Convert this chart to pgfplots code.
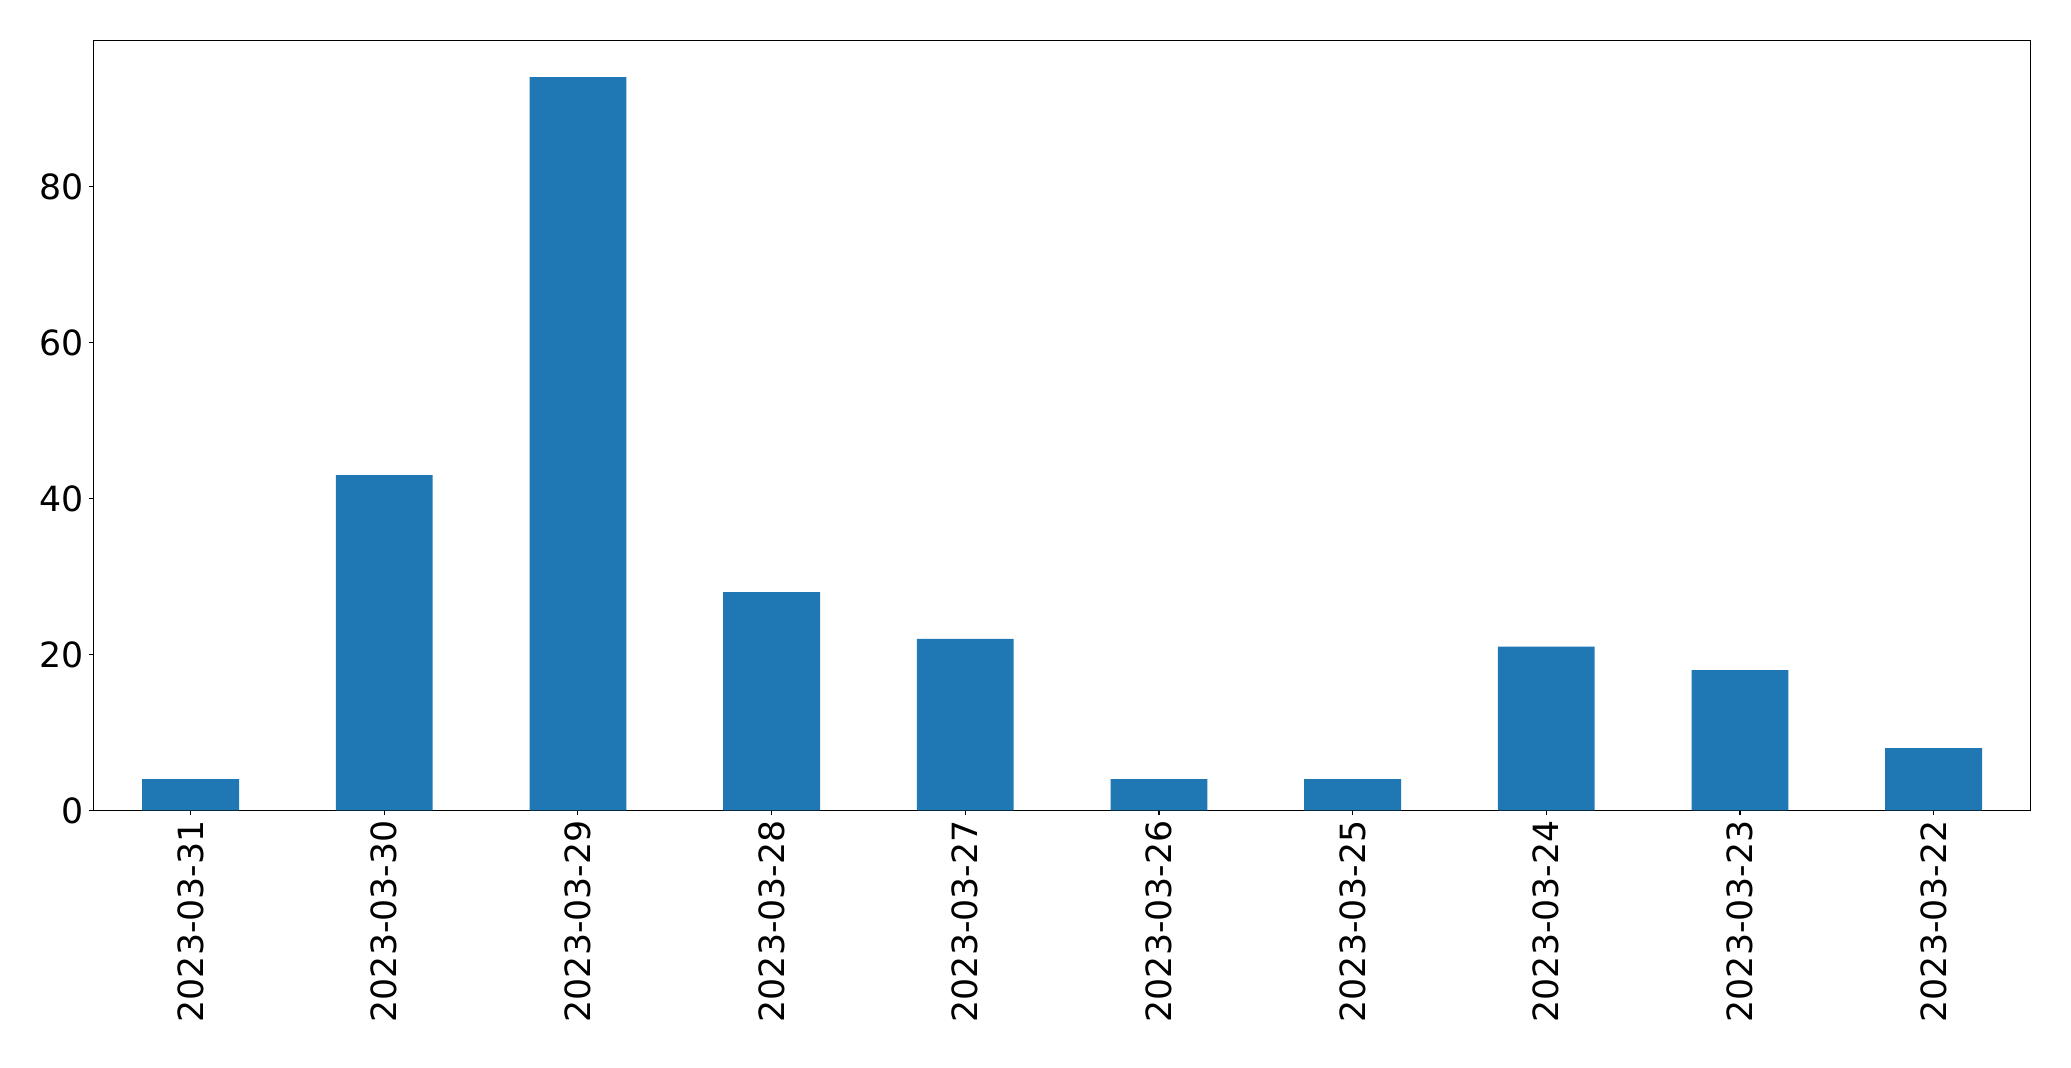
\documentclass[border=0pt]{standalone}
\usepackage{pgfplots}
\pgfplotsset{compat=1.18}
\usepackage{fontspec}
\setmainfont{DejaVu Sans}
\definecolor{barblue}{HTML}{1F77B4}
\begin{document}
\begin{tikzpicture}
\begin{axis}[
    width=1394.6pt, height=554.4pt, scale only axis,
    xmin=-0.5, xmax=9.5, ymin=0, ymax=98.7,
    ybar, bar width=0.5,
    xtick={0,...,9},
    xticklabels={2023-03-31,2023-03-30,2023-03-29,2023-03-28,2023-03-27,2023-03-26,2023-03-25,2023-03-24,2023-03-23,2023-03-22},
    x tick label style={rotate=90, anchor=east},
    ytick={0,20,40,60,80},
    tick align=outside, xtick pos=bottom, ytick pos=left,
    major tick length=3.5pt,
    axis line style={line width=0.8pt},
    tick style={line width=0.8pt, black},
    ticklabel style={font=\fontsize{25}{29}\selectfont, inner sep=3.5pt},
    /pgf/number format/assume math mode=true,
]
\addplot[fill=barblue, draw=none] coordinates {
    (0,4) (1,43) (2,94) (3,28) (4,22) (5,4) (6,4) (7,21) (8,18) (9,8)
};
\end{axis}
\path ([shift={(-25pt,-28.8pt)}]current bounding box.south west) rectangle ([shift={(28.8pt,28.8pt)}]current bounding box.north east);
\end{tikzpicture}
\end{document}
